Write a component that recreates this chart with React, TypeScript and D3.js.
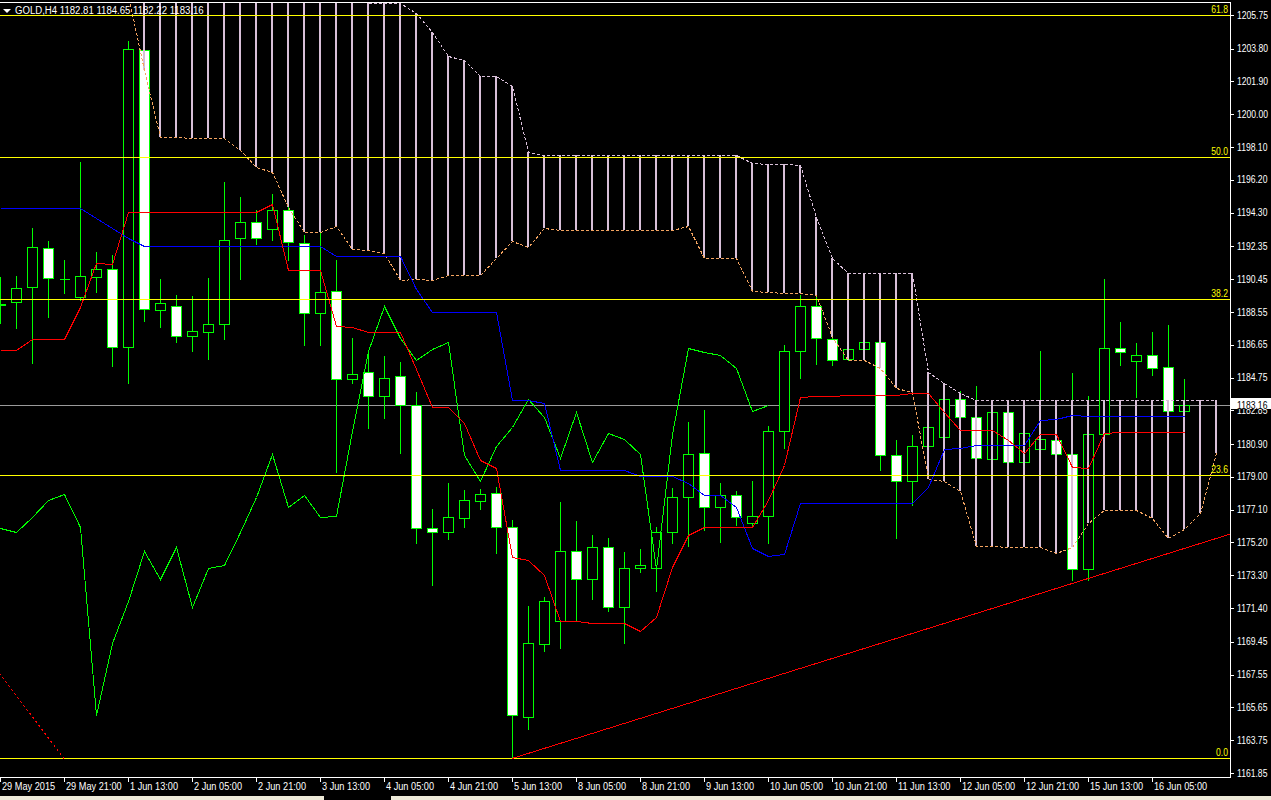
import React from "react";
import * as d3 from "d3";

// ---------- DATA (GOLD, H4) ----------
const open = [
  1188.96, 1189.11, 1189.97, 1192.23, 1190.47, 1189.39, 1190.59, 1191.03, 1186.5, 1203.7,
  1188.64, 1188.87, 1187.14, 1187.4, 1187.83, 1192.81, 1193.74, 1193.33, 1194.43, 1192.52,
  1188.47, 1189.74, 1184.65, 1185.05, 1183.7, 1184.82, 1183.14, 1176.02, 1175.79, 1176.63,
  1177.58, 1178.05, 1176.11, 1165.11, 1169.3, 1170.63, 1174.7, 1173.07, 1174.92, 1171.48,
  1173.7, 1173.7, 1175.79, 1177.81, 1180.36, 1177.27, 1177.93, 1176.31, 1176.71, 1181.64,
  1186.27, 1188.87, 1186.96, 1185.84, 1186.38, 1186.79, 1180.25, 1178.74, 1180.77, 1181.32,
  1183.49, 1182.45, 1180.01, 1182.74, 1179.84, 1180.59, 1181.11, 1180.3, 1173.65, 1181.46,
  1186.44, 1185.69, 1186.04, 1185.34, 1182.81,
];
const high = [
  1190.59, 1190.63, 1193.39, 1192.65, 1191.55, 1197.23, 1192.0, 1191.84, 1204.22, 1203.7,
  1190.44, 1189.53, 1189.47, 1190.51, 1196.05, 1195.19, 1194.43, 1195.36, 1194.74, 1193.0,
  1193.14, 1191.55, 1187.02, 1186.23, 1186.0, 1185.65, 1183.89, 1177.12, 1178.62, 1178.22,
  1178.28, 1178.39, 1176.5, 1171.52, 1172.06, 1177.54, 1176.44, 1175.63, 1175.44, 1174.65,
  1174.82, 1176.11, 1178.35, 1182.16, 1182.87, 1178.62, 1178.2, 1178.78, 1181.96, 1186.63,
  1189.53, 1189.49, 1187.27, 1186.63, 1186.82, 1186.82, 1181.13, 1181.42, 1182.0, 1184.03,
  1183.97, 1184.26, 1183.16, 1183.16, 1182.58, 1186.29, 1181.71, 1184.99, 1183.68, 1190.45,
  1187.96, 1186.75, 1187.39, 1187.79, 1184.65,
];
const low = [
  1187.89, 1187.63, 1185.61, 1188.27, 1189.66, 1189.24, 1189.72, 1185.42, 1184.45, 1188.04,
  1187.66, 1186.82, 1186.3, 1185.84, 1187.0, 1190.47, 1192.5, 1192.73, 1191.55, 1186.65,
  1186.63, 1179.3, 1184.42, 1181.84, 1182.42, 1180.36, 1175.15, 1172.74, 1175.4, 1176.09,
  1177.14, 1174.61, 1162.69, 1164.38, 1168.93, 1169.11, 1170.73, 1171.94, 1171.25, 1169.39,
  1173.51, 1172.41, 1175.15, 1175.01, 1175.92, 1175.24, 1176.21, 1176.09, 1175.15, 1180.65,
  1184.74, 1185.53, 1185.47, 1185.76, 1186.34, 1179.41, 1175.47, 1177.35, 1180.67, 1181.13,
  1182.29, 1179.86, 1179.86, 1179.63, 1179.68, 1180.44, 1180.09, 1173.03, 1173.03, 1181.13,
  1185.49, 1183.64, 1184.9, 1182.75, 1182.22,
];
const close = [
  1189.0, 1189.92, 1192.29, 1190.49, 1190.47, 1190.61, 1191.03, 1186.53, 1203.76, 1188.7,
  1189.05, 1187.15, 1187.43, 1187.83, 1192.7, 1193.74, 1192.81, 1194.43, 1192.58, 1188.47,
  1189.68, 1184.65, 1184.95, 1183.7, 1184.74, 1183.16, 1176.02, 1175.79, 1176.66, 1177.64,
  1177.99, 1176.11, 1165.19, 1169.36, 1171.81, 1174.7, 1173.07, 1174.92, 1171.48, 1173.7,
  1173.88, 1175.79, 1177.81, 1180.3, 1177.24, 1177.93, 1176.66, 1176.71, 1181.64, 1186.29,
  1188.87, 1187.02, 1185.76, 1186.38, 1186.79, 1180.25, 1178.74, 1180.77, 1181.87, 1183.49,
  1182.45, 1180.07, 1182.74, 1179.84, 1181.52, 1181.17, 1180.3, 1173.65, 1181.46, 1186.44,
  1186.21, 1186.04, 1185.28, 1182.79, 1183.16,
];

// Ichimoku: Tenkan-sen (red), Kijun-sen (blue)
const tenkan = [
  1186.33, 1186.33, 1186.96, 1186.96, 1186.96, 1188.85, 1191.36, 1191.32, 1194.35, 1194.35,
  1194.35, 1194.35, 1194.35, 1194.35, 1194.35, 1194.35, 1194.35, 1194.78, 1190.98, 1190.98,
  1190.98, 1187.73, 1187.69, 1187.37, 1187.37, 1187.37, 1185.24, 1183.06, 1183.06, 1182.1,
  1179.97, 1179.49, 1174.34, 1174.18, 1173.31, 1170.63, 1170.63, 1170.52, 1170.52, 1170.52,
  1170.09, 1170.9, 1173.76, 1175.63, 1176.11, 1176.11, 1176.11, 1176.11, 1177.66, 1179.68,
  1183.64, 1183.7, 1183.7, 1183.72, 1183.72, 1183.72, 1183.76, 1183.84, 1183.84, 1182.77,
  1181.71, 1181.69, 1181.69, 1181.13, 1180.4, 1181.46, 1181.46, 1179.59, 1179.49, 1181.55,
  1181.58, 1181.58, 1181.58, 1181.58, 1181.58,
];
const kijun = [
  1194.55, 1194.55, 1194.55, 1194.55, 1194.55, 1194.55, 1193.97, 1193.39, 1192.81, 1192.35,
  1192.35, 1192.35, 1192.35, 1192.35, 1192.35, 1192.35, 1192.35, 1192.35, 1192.35, 1192.35,
  1192.35, 1191.79, 1191.79, 1191.79, 1191.79, 1191.79, 1189.88, 1188.53, 1188.53, 1188.53,
  1188.53, 1188.53, 1183.45, 1183.45, 1183.26, 1179.4, 1179.4, 1179.4, 1179.4, 1179.4,
  1179.05, 1179.05, 1179.05, 1178.62, 1177.93, 1177.93, 1177.27, 1174.86, 1174.42, 1174.53,
  1177.47, 1177.47, 1177.47, 1177.47, 1177.47, 1177.47, 1177.47, 1177.47, 1178.43, 1180.61,
  1180.69, 1180.83, 1180.83, 1180.83, 1180.83, 1182.29, 1182.33, 1182.58, 1182.5, 1182.5,
  1182.5, 1182.5, 1182.5, 1182.5, 1182.5,
];
// Senkou Span A / B (already shifted forward, 77 positions)
const spanA = [
  1210.5, 1210.5, 1210.5, 1210.5, 1210.5, 1210.5, 1210.5, 1209.2, 1206.9, 1202.56,
  1198.69, 1198.66, 1198.62, 1198.62, 1198.6, 1197.92, 1196.96, 1196.67, 1194.62, 1193.19,
  1193.19, 1193.52, 1192.17, 1192.13, 1191.94, 1190.39, 1190.44, 1190.39, 1190.67, 1190.7,
  1190.7, 1191.65, 1192.64, 1192.29, 1193.42, 1193.31, 1193.31, 1193.31, 1193.31, 1193.31,
  1193.31, 1193.31, 1193.31, 1193.52, 1191.65, 1191.65, 1191.65, 1189.76, 1189.7, 1189.64,
  1189.63, 1189.53, 1187.11, 1185.76, 1185.76, 1185.28, 1184.13, 1183.93, 1178.87, 1178.78,
  1178.2, 1175.01, 1175.01, 1174.95, 1174.95, 1174.95, 1174.57, 1174.95, 1176.31, 1177.08,
  1177.08, 1177.08, 1176.6, 1175.47, 1175.96, 1176.89, 1180.4,
];
const spanB = [
  1209.5, 1209.5, 1209.5, 1209.5, 1209.5, 1209.5, 1209.5, 1209.5, 1209.5, 1209.5,
  1209.5, 1209.5, 1209.5, 1209.5, 1209.5, 1209.5, 1209.5, 1209.5, 1209.5, 1209.5,
  1209.5, 1209.5, 1207.19, 1206.42, 1206.42, 1206.42, 1205.84, 1204.74, 1203.38, 1203.13,
  1202.21, 1202.19, 1201.63, 1197.79, 1197.67, 1197.67, 1197.67, 1197.67, 1197.67, 1197.67,
  1197.67, 1197.67, 1197.67, 1197.67, 1197.67, 1197.67, 1197.67, 1197.15, 1197.1, 1197.1,
  1197.06, 1194.06, 1191.67, 1190.78, 1190.78, 1190.78, 1190.78, 1190.78, 1185.09, 1184.42,
  1183.84, 1183.45, 1183.45, 1183.45, 1183.45, 1183.45, 1183.45, 1183.45, 1183.45, 1183.45,
  1183.45, 1183.45, 1183.45, 1183.45, 1183.45, 1183.45, 1183.45,
];
const chikouShift = 26;

const priceTicks = [
  1205.75, 1203.8, 1201.9, 1200.0, 1198.1, 1196.2, 1194.3, 1192.35, 1190.45, 1188.55,
  1186.65, 1184.75, 1182.85, 1180.9, 1179.0, 1177.1, 1175.2, 1173.3, 1171.4, 1169.45,
  1167.55, 1165.65, 1163.75, 1161.85,
];
const timeTickBars = [0, 4, 8, 12, 16, 20, 24, 28, 32, 36, 40, 44, 48, 52, 56, 60, 64, 68, 72];
const timeTickLabels = [
  "29 May 2015", "29 May 21:00", "1 Jun 13:00", "2 Jun 05:00", "2 Jun 21:00", "3 Jun 13:00",
  "4 Jun 05:00", "4 Jun 21:00", "5 Jun 13:00", "8 Jun 05:00", "8 Jun 21:00", "9 Jun 13:00",
  "10 Jun 05:00", "10 Jun 21:00", "11 Jun 13:00", "12 Jun 05:00", "12 Jun 21:00",
  "15 Jun 13:00", "16 Jun 05:00",
];
const fibLevels = [61.8, 50.0, 38.2, 23.6, 0.0];
const fibLowPrice = 1162.69;
const fibHighPrice = 1232.35;
const fibLowBar = 4;
const fibHighBar = -53;
const trendBars = [32, 74];
const trendPrices = [1162.69, 1174.85];
const symbol = "GOLD,H4";

// ---------- LAYOUT ----------
const W = 1271;
const H = 800;
const PR = 1230; // plot right
const PB = 777; // plot bottom (axis line)
const FONT = "'Liberation Sans', Arial, sans-serif";
const FS = 10;
const SX = 0.86; // horizontal condensing of the small terminal font

function NText(props: {
  x: number;
  y: number;
  fill: string;
  sx?: number;
  anchor?: string;
  children: React.ReactNode;
}) {
  const { x, y, fill, sx = SX, anchor = "start", children } = props;
  return (
    <g transform={`translate(${x},${y}) scale(${sx},1)`}>
      <text x={0} y={0} fill={fill} fontSize={FS} textAnchor={anchor}>
        {children}
      </text>
    </g>
  );
}

export default function App() {
  const xs = d3.scaleLinear().domain([0, 74]).range([0, 1184]);
  const ys = d3.scaleLinear().domain([1161.85, 1205.75]).range([773, 15]);
  const px = (i: number) => Math.round(xs(i)) + 0.5;
  const py = (p: number) => Math.round(ys(p)) + 0.5;
  const line = d3
    .line<[number, number]>()
    .x((d) => px(d[0]))
    .y((d) => py(d[1]));
  const series = (arr: number[], start = 0) =>
    line(arr.map((v, i) => [i + start, v] as [number, number])) || "";

  const chikou = close.slice(chikouShift);
  const last = close.length - 1;
  const lastPrice = close[last];

  const tSlope = (trendPrices[1] - trendPrices[0]) / (trendBars[1] - trendBars[0]);
  const endBar = xs.invert(PR);
  const tEndPrice = trendPrices[0] + tSlope * (endBar - trendBars[0]);

  const fibPrice = (lvl: number) => fibLowPrice + ((fibHighPrice - fibLowPrice) * lvl) / 100;

  const green = "#00ff00";

  return (
    <div style={{ position: "absolute", left: 0, top: 0, width: W, height: H, background: "#000" }}>
      <svg width={W} height={H} style={{ display: "block" }} fontFamily={FONT}>
        <defs>
          <clipPath id="plot">
            <rect x={0} y={3} width={PR} height={PB - 3} />
          </clipPath>
        </defs>
        <rect x={0} y={0} width={W} height={H} fill="#000" />

        <g clipPath="url(#plot)">
          {/* bid line */}
          <line x1={0} x2={PR} y1={py(lastPrice)} y2={py(lastPrice)} stroke="#9a9a9a" shapeRendering="crispEdges" />

          {/* candles */}
          {open.map((o, i) => {
            const c = close[i];
            const xc = px(i);
            const top = Math.round(ys(Math.max(o, c))) + 0.5;
            const bot = Math.round(ys(Math.min(o, c))) + 0.5;
            return (
              <g key={"c" + i} shapeRendering="crispEdges">
                <line x1={xc} x2={xc} y1={Math.round(ys(high[i]))} y2={Math.round(ys(low[i])) + 1} stroke={green} />
                <path
                  d={`M${xc - 5},${top}H${xc + 5}V${bot}H${xc - 5}Z`}
                  fill={c < o ? "#ffffff" : "#000000"}
                  stroke={green}
                />
              </g>
            );
          })}

          {/* kumo histogram */}
          {spanA.map((a, i) => (
            <line
              key={"k" + i}
              x1={xs(i)}
              x2={xs(i)}
              y1={Math.round(ys(a))}
              y2={Math.round(ys(spanB[i]))}
              stroke="#d8bfd8"
              strokeWidth={2}
              shapeRendering="crispEdges"
            />
          ))}
          <path d={series(spanA)} fill="none" stroke="#f4a460" strokeDasharray="3 2" shapeRendering="crispEdges" />
          <path d={series(spanB)} fill="none" stroke="#d8bfd8" strokeDasharray="3 2" shapeRendering="crispEdges" />

          {/* tenkan, kijun, chikou */}
          <path d={series(chikou)} fill="none" stroke="#00ff00" shapeRendering="crispEdges" />
          <path d={series(kijun)} fill="none" stroke="#0000ff" shapeRendering="crispEdges" />
          <path d={series(tenkan)} fill="none" stroke="#ff0000" shapeRendering="crispEdges" />

          {/* fibonacci */}
          {fibLevels.map((l) => (
            <line key={"f" + l} x1={0} x2={PR} y1={py(fibPrice(l))} y2={py(fibPrice(l))} stroke="#ffff00" shapeRendering="crispEdges" />
          ))}
          <line
            x1={xs(fibLowBar)}
            y1={ys(fibLowPrice)}
            x2={xs(fibHighBar)}
            y2={ys(fibHighPrice)}
            stroke="#ff0000"
            strokeDasharray="2 3"
            shapeRendering="crispEdges"
          />
          {/* trend line */}
          <line
            x1={xs(trendBars[0])}
            y1={ys(trendPrices[0])}
            x2={PR}
            y2={ys(tEndPrice)}
            stroke="#ff0000"
            shapeRendering="crispEdges"
          />
        </g>

        {/* fib labels */}
        {fibLevels.map((l) => (
          <NText key={"fl" + l} x={1228} y={Math.round(ys(fibPrice(l))) - 2} fill="#ffff00" anchor="end">
            {l.toFixed(1)}
          </NText>
        ))}

        {/* frame */}
        <line x1={0} x2={PR} y1={2.5} y2={2.5} stroke="#ffffff" shapeRendering="crispEdges" />
        <line x1={PR + 0.5} x2={PR + 0.5} y1={2} y2={PB + 1} stroke="#ffffff" shapeRendering="crispEdges" />
        <line x1={0} x2={PR + 1} y1={PB + 0.5} y2={PB + 0.5} stroke="#ffffff" shapeRendering="crispEdges" />

        {/* price axis */}
        {priceTicks.map((t) => (
          <g key={"pt" + t}>
            <line x1={PR} x2={PR + 4} y1={py(t)} y2={py(t)} stroke="#ffffff" shapeRendering="crispEdges" />
            <NText x={1237} y={ys(t) + 3.6} fill="#ffffff">
              {t.toFixed(2)}
            </NText>
          </g>
        ))}
        <rect x={1231} y={398} width={40} height={11} fill="#ffffff" />
        <NText x={1237} y={ys(lastPrice) + 3.6} fill="#000000">
          {lastPrice.toFixed(2)}
        </NText>

        {/* time axis */}
        {timeTickBars.map((b, k) => (
          <g key={"tt" + b}>
            <line x1={px(b)} x2={px(b)} y1={PB} y2={PB + 5} stroke="#ffffff" shapeRendering="crispEdges" />
            <NText x={xs(b) + 2} y={790} fill="#ffffff" sx={0.92}>
              {timeTickLabels[k]}
            </NText>
          </g>
        ))}

        {/* bottom tab strip */}
        <rect x={0} y={796} width={324} height={4} fill="#ece9d8" />
        <rect x={391} y={796} width={W - 391} height={4} fill="#ece9d8" />

        {/* header */}
        <path d="M3,9 L11,9 L7,13 Z" fill="#ffffff" />
        <NText x={15} y={14} fill="#ffffff" sx={0.96}>
          {`${symbol}  ${open[last].toFixed(2)} ${high[last].toFixed(2)} ${low[last].toFixed(2)} ${close[last].toFixed(2)}`}
        </NText>
      </svg>
    </div>
  );
}
